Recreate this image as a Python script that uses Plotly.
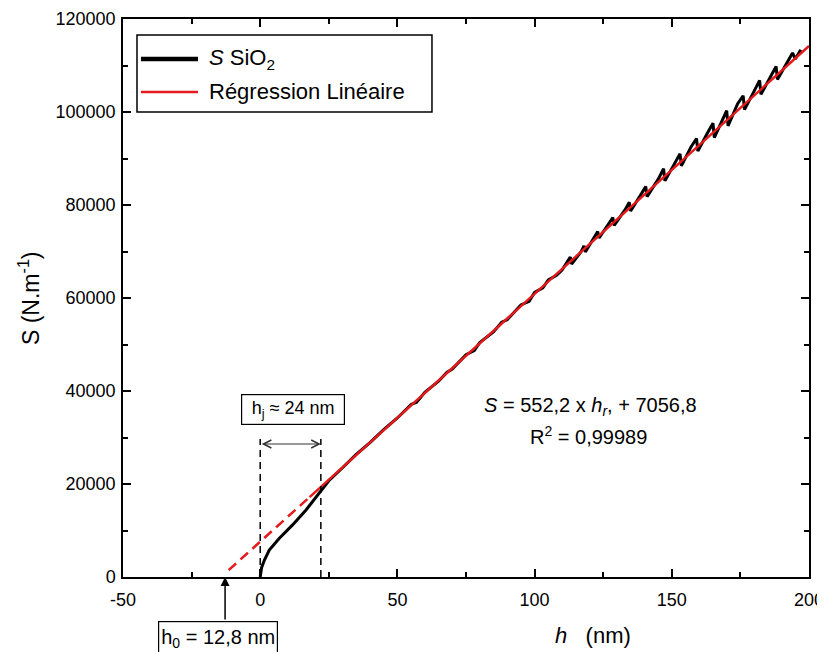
import plotly.graph_objects as go

# ---- data ----
black_h = [0, 0.5, 1.5, 3.3, 6.9, 11.8, 16.7, 21.9, 25, 30, 35, 40, 45, 50, 55, 57, 60, 65, 68, 70,
           75, 78, 80, 85, 88, 90, 95, 98, 100, 103, 105, 108, 110, 113, 113.5, 117, 118, 118.5,
           122, 123, 123.5, 127, 128.5, 129, 133, 134.5, 135, 139, 140.5, 141, 145, 147, 147.5,
           151, 153, 153.5, 157, 159, 159.5, 163, 165, 165.5, 168, 170, 170.5, 174, 176, 176.5,
           180, 182, 182.5, 186, 188, 188.5, 192, 194, 195, 197]
black_S = [0, 2000, 3600, 5800, 8300, 11200, 14400, 18500, 20700, 23500, 26350, 28900, 31700, 34200,
           37100, 37600, 39700, 42100, 44000, 44700, 47800, 48700, 50400, 52700, 54800, 55300, 58500,
           59300, 61200, 62200, 63900, 64900, 66000, 68800, 67300, 70000, 71200, 69900, 73500, 74300,
           72900, 75800, 77300, 75600, 79000, 80600, 78700, 82500, 84000, 81800, 85500, 87800, 85200,
           88900, 91000, 88400, 92500, 94300, 91600, 95500, 97600, 94500, 97600, 100300, 97000,
           101800, 103500, 100500, 104500, 106800, 103800, 107700, 109800, 107000, 110800, 112700,
           111400, 113400]

reg_dash_h = [-11.5, 18]
reg_dash_S = [1470, 17190]
reg_solid_h = [18, 200]
reg_solid_S = [17190, 114200]

# annotation helpers (data coords)
hj_lines_h = [0, 22.1]
hj_top_S = 29700
hj_arrow_S = 28600
h0_value = -12.8

x_ticks = [-50, 0, 50, 100, 150, 200]
x_ticktext = ["-50", "0", "50", "100", "150", "200"]
y_ticks = [0, 20000, 40000, 60000, 80000, 100000, 120000]
y_ticktext = ["0", "20000", "40000", "60000", "80000", "100000", "120000"]

legend_names = ["<i>S</i> SiO<sub>2</sub>", "Régression Linéaire"]

FONT = "Arial, 'Liberation Sans', sans-serif"
RED = "#e41a1c"

fig = go.Figure()
fig.add_trace(go.Scatter(x=black_h, y=black_S, mode="lines",
                         line=dict(color="black", width=3),
                         name=legend_names[0], showlegend=False))
fig.add_trace(go.Scatter(x=reg_dash_h, y=reg_dash_S, mode="lines",
                         line=dict(color=RED, width=2.5, dash="10px,6px"),
                         showlegend=False))
fig.add_trace(go.Scatter(x=reg_solid_h, y=reg_solid_S, mode="lines",
                         line=dict(color=RED, width=2.5),
                         name=legend_names[1], showlegend=False))

axis_common = dict(showgrid=False, zeroline=False, showline=True, linecolor="black",
                   linewidth=1.5, mirror="ticks", ticks="inside", ticklen=8, tickwidth=1.5,
                   tickcolor="black", automargin=False,
                   tickfont=dict(family=FONT, size=18, color="black"))

# the page body adds an 8px offset, margins compensate for it
fig.update_layout(
    width=825, height=652,
    margin=dict(l=115, r=24, t=11, b=83, autoexpand=False),
    paper_bgcolor="white", plot_bgcolor="white",
    font=dict(family=FONT, color="black"),
    xaxis=dict(range=[-50, 200], tickvals=x_ticks, ticktext=x_ticktext, ticklabelstandoff=6,
               minor=dict(dtick=25, tick0=0, ticks="inside", ticklen=5, tickwidth=1.5,
                          tickcolor="black", showgrid=False),
               **axis_common),
    yaxis=dict(range=[0, 120000], tickvals=y_ticks, ticktext=y_ticktext, ticklabelstandoff=2,
               minor=dict(dtick=10000, tick0=0, ticks="inside", ticklen=5, tickwidth=1.5,
                          tickcolor="black", showgrid=False),
               **axis_common),
    showlegend=False,
)

C = dict(xanchor="center", yanchor="middle", showarrow=False)
annotations = [
    # y-axis title
    dict(text="S (N.m<sup>-1</sup>)", xref="paper", yref="paper", x=-0.137, y=0.5,
         textangle=-90, font=dict(size=23), **C),
    # x-axis title
    dict(text="<i>h</i>\u00a0\u00a0\u00a0(nm)", xref="paper", yref="paper", x=0.685, y=-0.104,
         font=dict(size=22), **C),
    # equation
    dict(text="<i>S</i> = 552,2 x <i>h</i><sub><i>r</i></sub>, + 7056,8", xref="paper", yref="paper",
         x=0.682, y=0.305, font=dict(size=20), **C),
    dict(text="R<sup>2</sup> = 0,99989", xref="paper", yref="paper",
         x=0.678, y=0.253, font=dict(size=20), **C),
    # h_j box
    dict(text="h<sub>j</sub> ≈ 24 nm", xref="paper", yref="paper", x=0.248, y=0.301,
         font=dict(size=18), bordercolor="black", borderwidth=1.2,
         bgcolor="white", width=100, height=27, **C),
    # h0 box
    dict(text="h<sub>0</sub> = 12,8 nm", xref="paper", yref="paper", x=0.1385, y=-0.110,
         font=dict(size=20), bordercolor="black", borderwidth=1.2,
         bgcolor="white", width=116, height=30, **C),
    # legend texts
    dict(text=legend_names[0], xref="paper", yref="paper", x=0.1224, y=0.9283,
         xanchor="left", yanchor="middle", showarrow=False, font=dict(size=22)),
    dict(text=legend_names[1], xref="paper", yref="paper", x=0.1224, y=0.8692,
         xanchor="left", yanchor="middle", showarrow=False, font=dict(size=22)),
    # h0 arrow
    dict(text="", x=h0_value, y=0, xref="x", yref="y", showarrow=True, ax=0, ay=44,
         arrowhead=2, arrowsize=1.2, arrowwidth=1.5, arrowcolor="black", standoff=0),
    # h_j double arrow
    dict(text="", x=hj_lines_h[1], y=hj_arrow_S, xref="x", yref="y",
         axref="x", ayref="y", ax=hj_lines_h[0], ay=hj_arrow_S, showarrow=True,
         arrowside="end+start", arrowhead=5, startarrowhead=5, arrowsize=1.3,
         startarrowsize=1.3, arrowwidth=1.2, arrowcolor="#333333"),
]
fig.update_layout(annotations=annotations)

shapes = []
for hv in hj_lines_h:
    shapes.append(dict(type="line", xref="x", yref="y", x0=hv, x1=hv, y0=0, y1=hj_top_S,
                       line=dict(color="black", width=1.5, dash="7px,5px")))
# legend frame and samples
shapes.append(dict(type="rect", xref="paper", yref="paper", x0=0.0204, x1=0.4504,
                   y0=0.8333, y1=0.9713, line=dict(color="black", width=1.5),
                   fillcolor="white", layer="above"))
shapes.append(dict(type="line", xref="paper", yref="paper", x0=0.0262, x1=0.1093,
                   y0=0.9283, y1=0.9283, line=dict(color="black", width=4.5)))
shapes.append(dict(type="line", xref="paper", yref="paper", x0=0.0262, x1=0.1093,
                   y0=0.8692, y1=0.8692, line=dict(color=RED, width=2.5)))
fig.update_layout(shapes=shapes)

fig.write_html("out.html")
